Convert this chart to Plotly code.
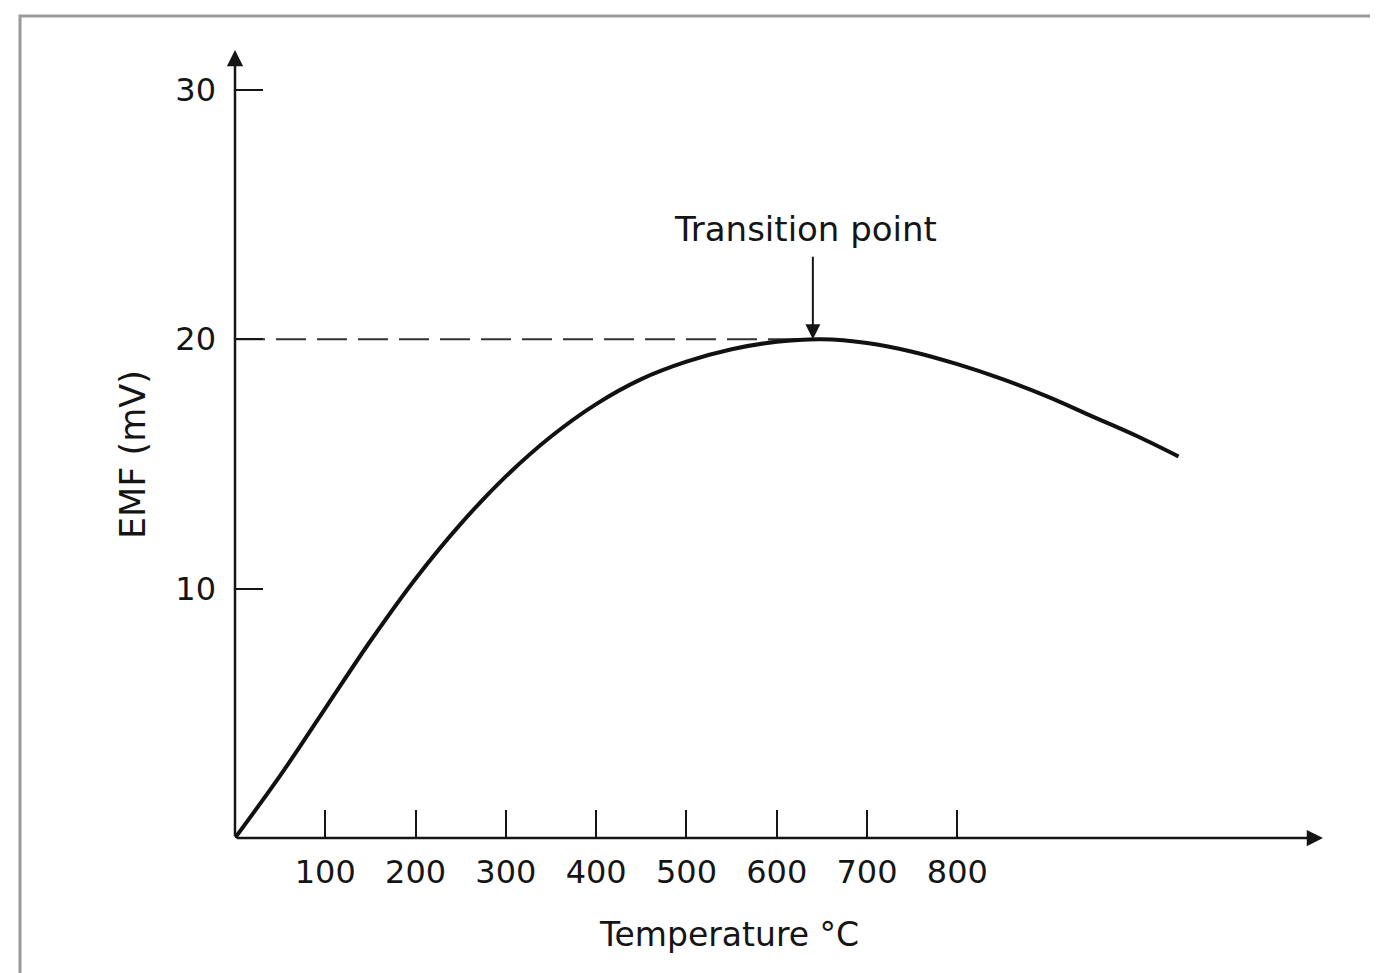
import plotly.graph_objects as go

# Data
temperature_c = [0, 50, 100, 150, 200, 250, 300, 350, 400, 450, 500, 550, 600, 650,
                 700, 750, 800, 850, 900, 950, 1000, 1045]
emf_mv = [0.0, 2.5, 5.2, 7.9, 10.4, 12.6, 14.5, 16.1, 17.4, 18.4, 19.1, 19.6, 19.9, 20.0,
          19.85, 19.5, 19.0, 18.4, 17.7, 16.9, 16.1, 15.3]

x_ticks = [100, 200, 300, 400, 500, 600, 700, 800]
x_tick_labels = ["100", "200", "300", "400", "500", "600", "700", "800"]
y_ticks = [10, 20, 30]
y_tick_labels = ["10", "20", "30"]

transition_temp = 640
transition_emf = 20

X_MAX = 1205
Y_MAX = 31.6

ink = "#151515"
font_family = "DejaVu Sans"

fig = go.Figure()

# dashed reference line at the transition EMF
fig.add_trace(go.Scatter(
    x=[0, transition_temp], y=[transition_emf, transition_emf],
    mode="lines", line=dict(color="#333333", width=2, dash="30px,11px"),
    hoverinfo="skip", showlegend=False))

# EMF curve
fig.add_trace(go.Scatter(
    x=temperature_c, y=emf_mv, mode="lines",
    line=dict(color="#111111", width=4, shape="spline", smoothing=1.0),
    showlegend=False))

annotations = [
    # x axis with arrow
    dict(x=X_MAX, y=0, ax=0, ay=0, xref="x", yref="y", axref="x", ayref="y",
         text="", showarrow=True, arrowhead=2, arrowsize=1.3, arrowwidth=2.5,
         arrowcolor=ink, standoff=0),
    # y axis with arrow
    dict(x=0, y=Y_MAX, ax=0, ay=0, xref="x", yref="y", axref="x", ayref="y",
         text="", showarrow=True, arrowhead=2, arrowsize=1.3, arrowwidth=2.5,
         arrowcolor=ink, standoff=0),
    # transition point arrow
    dict(x=transition_temp, y=transition_emf, xref="x", yref="y",
         text="", showarrow=True, ax=0, ay=-84,
         arrowhead=2, arrowsize=1.5, arrowwidth=2, arrowcolor=ink, standoff=0),
    # transition point label
    dict(x=transition_temp, y=transition_emf, xref="x", yref="y",
         text="Transition point", showarrow=False, xshift=-7, yshift=110,
         xanchor="center", yanchor="middle",
         font=dict(family=font_family, size=34, color=ink)),
    # axis titles
    dict(x=-0.0937, y=0.486, xref="paper", yref="paper", text="EMF (mV)",
         showarrow=False, textangle=-90, xanchor="center", yanchor="middle",
         font=dict(family=font_family, size=35, color=ink)),
    dict(x=0.454, y=-0.123, xref="paper", yref="paper", text="Temperature °C",
         showarrow=False, xanchor="center", yanchor="middle",
         font=dict(family=font_family, size=33, color=ink)),
]

shapes = [
    dict(type="rect", xref="paper", yref="paper",
         x0=-0.1976, y0=-0.25, x1=1.08, y1=1.0431,
         line=dict(color="#9a9a9a", width=3), layer="below"),
]

fig.update_layout(
    width=1370, height=965,
    margin=dict(l=227, r=55, t=42, b=135),
    paper_bgcolor="white", plot_bgcolor="white",
    annotations=annotations, shapes=shapes,
    xaxis=dict(range=[0, X_MAX], showgrid=False, zeroline=False, showline=False,
               tickvals=x_ticks, ticktext=x_tick_labels,
               ticks="inside", ticklen=28, tickwidth=2, tickcolor=ink,
               ticklabelstandoff=12,
               tickfont=dict(family=font_family, size=32, color=ink)),
    yaxis=dict(range=[0, Y_MAX], showgrid=False, zeroline=False, showline=False,
               tickvals=y_ticks, ticktext=y_tick_labels,
               ticks="inside", ticklen=28, tickwidth=2, tickcolor=ink,
               ticklabelstandoff=18,
               tickfont=dict(family=font_family, size=32, color=ink)),
)

fig.write_html("out.html")
